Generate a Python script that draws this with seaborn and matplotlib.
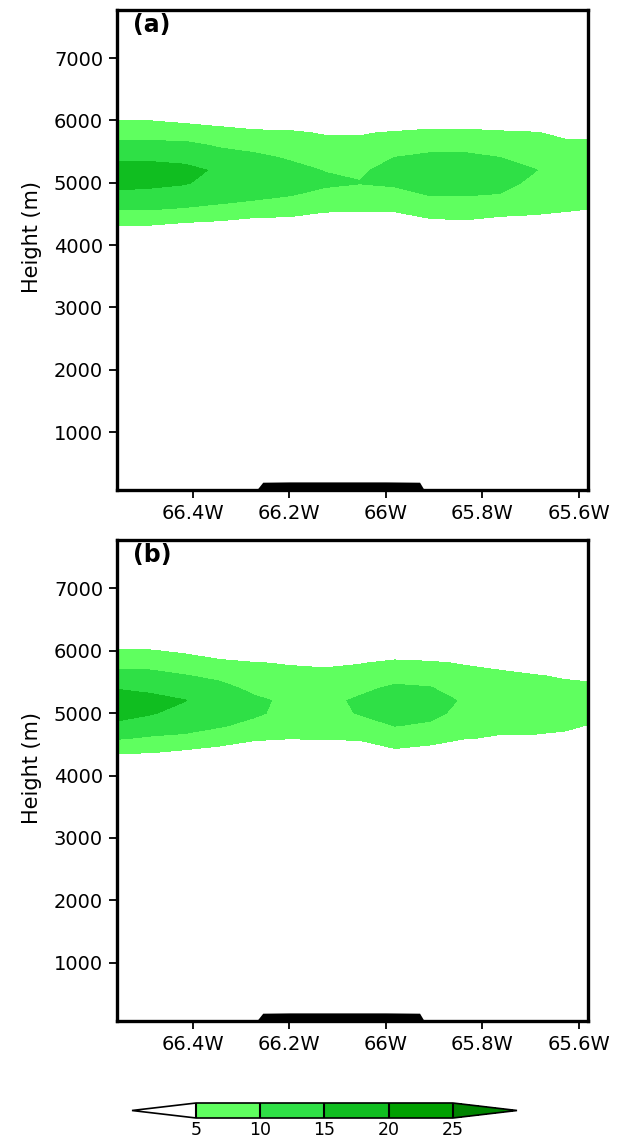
import numpy as np
import matplotlib
matplotlib.use("Agg")
import matplotlib.pyplot as plt
import seaborn as sns
from matplotlib.colors import ListedColormap, BoundaryNorm

# ---------------- data ----------------
lon_cols = [-66.56, -66.489, -66.417, -66.344, -66.272, -66.199, -66.126, -66.054,
            -65.981, -65.909, -65.836, -65.764, -65.691, -65.629, -65.58]
height_rows = [4000, 4200, 4400, 4600, 4800, 5000, 5200, 5400, 5600, 5800, 6000, 6200]

field_a = [
    [0, 0, 0, 0, 0, 0, 0, 0, 0, 0, 0, 0, 0, 0, 0],
    [2.4, 2.4, 1.74, 1.2, 0.1, 0.1, 0, 0, 0, 0.6, 0.98, 0.1, 0.1, 0, 0],
    [6.8, 6.8, 5.78, 5.21, 4.12, 4.12, 2.84, 2.84, 2.84, 4.6, 4.95, 4.12, 4.12, 3.3, 2.6],
    [10.76, 10.70, 9.95, 9.36, 8.56, 7.31, 6.21, 5.93, 6.10, 7.43, 7.55, 7.09, 6.12, 5.8, 5.3],
    [13.88, 13.57, 12.86, 11.47, 10.94, 10.13, 8.84, 7.94, 8.50, 10.10, 10.11, 9.76, 7.56, 6.58, 6.2],
    [16.61, 16.14, 15.42, 13.20, 12.31, 11.52, 10.74, 10.2, 10.77, 12.28, 12.40, 11.51, 9.0, 7.68, 7.2],
    [16.89, 16.64, 16.10, 14.40, 12.28, 11.12, 9.85, 9.1, 12.18, 13.14, 13.31, 11.80, 10.15, 8.19, 7.8],
    [14.27, 14.27, 13.83, 11.80, 10.83, 9.64, 8.18, 7.64, 10.07, 10.95, 11.0, 10.06, 8.35, 6.94, 6.6],
    [11.15, 11.15, 11.03, 9.53, 8.76, 7.63, 6.51, 6.25, 7.75, 8.55, 8.55, 7.82, 6.77, 5.70, 5.6],
    [8.04, 8.04, 7.73, 6.65, 5.88, 5.61, 4.62, 4.62, 5.41, 5.99, 5.99, 5.56, 5.19, 4.3, 4.2],
    [4.9, 4.9, 4.04, 3.3, 2.22, 2.22, 0.62, 0.62, 1.7, 2.54, 2.54, 2.0, 1.48, 0.5, 0.4],
    [0.9, 0.9, 0, 0, 0, 0, 0, 0, 0, 0, 0, 0, 0, 0, 0],
]

field_b = [
    [0, 0, 0, 0, 0, 0, 0, 0, 0, 0, 0, 0, 0, 0, 0],
    [1.8, 1.8, 0.74, 0, 0, 0, 0, 0, 0.52, 0, 0, 0, 0, 0, 0],
    [5.94, 5.75, 4.74, 3.66, 2.06, 1.54, 2.06, 2.06, 4.52, 3.66, 1.54, 0.5, 0.5, 0, 0],
    [10.51, 9.49, 9.12, 7.36, 5.77, 5.22, 5.41, 5.66, 7.42, 6.73, 5.22, 4.6, 4.6, 4.3, 2.5],
    [14.25, 12.70, 11.54, 10.45, 8.66, 6.81, 6.95, 8.16, 10.13, 9.34, 6.89, 6.04, 5.89, 5.55, 4.9],
    [16.43, 15.43, 13.47, 12.19, 10.78, 8.40, 8.50, 10.29, 12.17, 11.29, 8.55, 7.44, 7.09, 6.73, 6.11],
    [16.76, 16.02, 15.15, 13.04, 10.72, 9.22, 8.97, 10.61, 12.78, 11.98, 9.42, 8.18, 7.69, 7.07, 6.72],
    [14.82, 14.27, 12.56, 11.22, 8.99, 7.72, 7.46, 9.05, 10.71, 10.24, 7.91, 6.89, 6.43, 5.85, 5.6],
    [11.53, 11.36, 10.16, 9.0, 7.09, 6.22, 5.95, 6.97, 8.36, 7.92, 6.39, 5.6, 5.18, 4.6, 4.4],
    [8.33, 8.33, 7.31, 6.03, 5.2, 4.7, 4.4, 4.78, 5.86, 5.52, 4.68, 4.2, 2.5, 0.8, 0.6],
    [5.20, 5.20, 4.2, 2.38, 1.42, 0.5, 0, 0.78, 2.38, 1.86, 0.68, 0, 0, 0, 0],
    [1.26, 1.26, 0, 0, 0, 0, 0, 0, 0, 0, 0, 0, 0, 0, 0],
]

terrain_lon = [-66.275, -66.255, -66.2, -66.1, -66.0, -65.93, -65.915]
terrain_h = [0, 195, 200, 200, 200, 195, 0]

levels = [5, 10, 15, 20, 25]
fill_colors = ["#5fff5f", "#2fe046", "#10be20", "#00a000"]
over_color = "#008400"

xtick_vals = [-66.4, -66.2, -66.0, -65.8, -65.6]
xtick_labels = ["66.4W", "66.2W", "66W", "65.8W", "65.6W"]
ytick_vals = [1000, 2000, 3000, 4000, 5000, 6000, 7000]
panel_labels = ["(a)", "(b)"]

# ---------------- style ----------------
sns.set_theme(style="ticks")
plt.rcParams["font.family"] = ["DejaVu Sans"]

cmap = ListedColormap(fill_colors)
cmap.set_under("white")
cmap.set_over(over_color)
norm = BoundaryNorm(levels, cmap.N)

W, H = 621, 1137
fig = plt.figure(figsize=(W / 100, H / 100), dpi=100)
ax_a = fig.add_axes([117 / W, 1 - 490 / H, 471 / W, 480 / H])
ax_b = fig.add_axes([117 / W, 1 - 1021 / H, 471 / W, 481 / H])
cax = fig.add_axes([132 / W, 1 - 1118 / H, 385 / W, 15 / H])

cs = None
for ax, field, lab in [(ax_a, field_a, panel_labels[0]), (ax_b, field_b, panel_labels[1])]:
    cs = ax.contourf(lon_cols, height_rows, np.array(field), levels=levels,
                     cmap=cmap, norm=norm, extend="both", antialiased=False)
    ax.fill_between(terrain_lon, 0, terrain_h, color="black", lw=0, zorder=3)
    ax.set_xlim(-66.557, -65.581)
    ax.set_ylim(70, 7770)
    ax.set_xticks(xtick_vals)
    ax.set_xticklabels(xtick_labels)
    ax.set_yticks(ytick_vals)
    ax.set_yticklabels([str(v) for v in ytick_vals])
    ax.tick_params(axis="both", direction="out", length=6, width=1.3, color="black",
                   labelcolor="black", labelsize=14, pad=4)
    for s in ax.spines.values():
        s.set_linewidth(2.4)
        s.set_color("black")
        s.set_zorder(5)
    ax.set_ylabel("Height (m)", fontsize=15, color="black")
    ax.yaxis.set_label_coords(-0.16, 0.527)
    ax.text(0.035, 0.993, lab, transform=ax.transAxes, ha="left", va="top",
            fontsize=17, fontweight="bold", color="black", zorder=6)

cb = fig.colorbar(cs, cax=cax, orientation="horizontal", extend="both",
                  extendfrac=0.25, drawedges=True, ticks=levels)
cb.ax.tick_params(length=0, labelsize=12.5, pad=2, labelcolor="black")
cb.outline.set_linewidth(1.2)
cb.outline.set_edgecolor("black")
cb.dividers.set_color("black")
cb.dividers.set_linewidth(1.5)

fig.savefig("out.png", dpi=100, facecolor="white")
